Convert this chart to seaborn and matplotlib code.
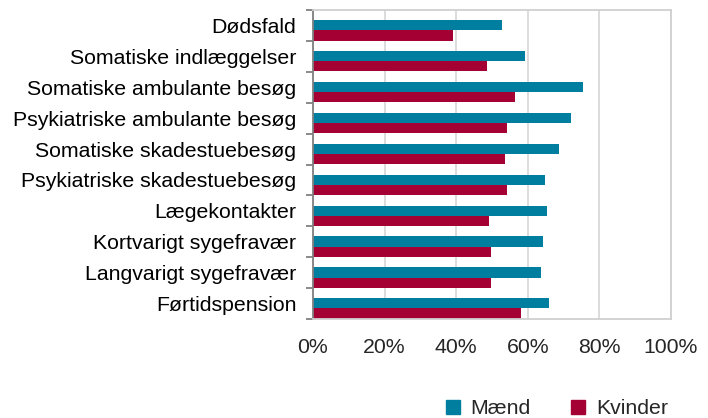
import pandas as pd
import matplotlib
matplotlib.use("Agg")
import matplotlib.pyplot as plt
import seaborn as sns

categories = [
    "Dødsfald",
    "Somatiske indlæggelser",
    "Somatiske ambulante besøg",
    "Psykiatriske ambulante besøg",
    "Somatiske skadestuebesøg",
    "Psykiatriske skadestuebesøg",
    "Lægekontakter",
    "Kortvarigt sygefravær",
    "Langvarigt sygefravær",
    "Førtidspension",
]
maend = [52.8, 59.2, 75.4, 72.1, 68.7, 64.8, 65.4, 64.2, 63.7, 65.9]
kvinder = [39.2, 48.6, 56.4, 54.2, 53.6, 54.2, 49.2, 49.7, 49.7, 58.1]
series = ["Mænd", "Kvinder"]
colors = ["#007E9F", "#A50034"]
xticks = [0, 20, 40, 60, 80, 100]

df = pd.DataFrame({
    "kategori": categories * 2,
    "andel": maend + kvinder,
    "koen": [series[0]] * len(categories) + [series[1]] * len(categories),
})

sns.set_style("white")
plt.rcParams["font.family"] = ["Liberation Sans", "DejaVu Sans"]

fig = plt.figure(figsize=(7.08, 4.18), dpi=100)
ax = fig.add_axes([313 / 708, 1 - 319 / 418, 358 / 708, 309 / 418])

sns.barplot(data=df, y="kategori", x="andel", hue="koen", palette=colors,
            orient="h", width=0.66, dodge=True, ax=ax, legend=False,
            edgecolor="none", saturation=1)

# in the original the bar pairs sit a bit low in each category slot
off = 0.16
n = len(categories)
ax.set_ylim(n - 0.5 - off, -0.5 - off)

ax.set_xlim(0, 100)
ax.set_xticks(xticks)
ax.set_xticklabels([f"{t}%" for t in xticks])
ax.set_xlabel("")
ax.set_ylabel("")
ax.grid(axis="x", color="#D9D9D9", linewidth=1.3)
ax.set_axisbelow(True)

for s in ["top", "right", "bottom"]:
    ax.spines[s].set_color("#D0D0D0")
    ax.spines[s].set_linewidth(1.3)
ax.spines["left"].set_color("#808080")
ax.spines["left"].set_linewidth(1.3)

ax.set_yticks([i - off for i in range(n)])
ax.set_yticklabels(categories)
ax.set_yticks([i - 0.5 - off for i in range(n + 1)], minor=True)
ax.tick_params(axis="y", which="major", length=0, pad=12, labelsize=15.3, colors="#000000")
ax.tick_params(axis="y", which="minor", length=5, width=1.3, color="#808080", left=True)
ax.tick_params(axis="x", length=0, pad=14, labelsize=15.3)

handles = [plt.Rectangle((0, 0), 1, 1, color=c) for c in colors]
fig.legend(handles, series, loc="center", bbox_to_anchor=(557 / 708, 1 - 409 / 418),
           ncol=2, frameon=False, fontsize=15.3, handlelength=0.65, handleheight=0.65,
           handletextpad=0.5, columnspacing=1.9, borderaxespad=0)

fig.savefig("out.png", dpi=100)
